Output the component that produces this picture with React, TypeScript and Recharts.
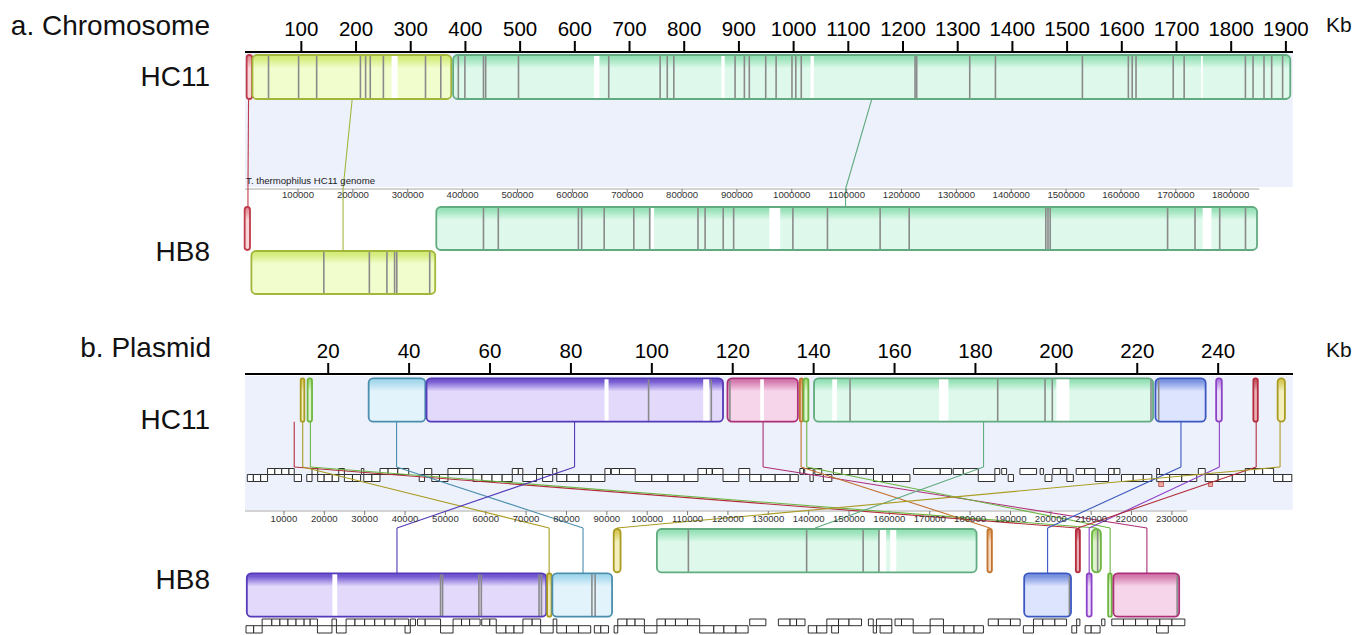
import React from "react";
import { ComposedChart, XAxis, YAxis, Scatter, ReferenceArea, ReferenceLine, ReferenceDot } from "recharts";

const FONT = "'Liberation Sans', Arial, Helvetica, sans-serif";

// ---------- a. chromosome (kb) ----------
const chrTicks = [100, 200, 300, 400, 500, 600, 700, 800, 900, 1000, 1100, 1200, 1300, 1400, 1500, 1600, 1700, 1800, 1900];
const chrHb8Ticks = [100, 200, 300, 400, 500, 600, 700, 800, 900, 1000, 1100, 1200, 1300, 1400, 1500, 1600, 1700, 1800];
const chrHb8Length = 1852;

const chrHc11Blocks = [
  { lcb: "red", start: 0, end: 10 },
  {
    lcb: "yellow", start: 10.6, end: 374,
    breaks: [40, 95, 128, 208, 217.5, 226, 250, 327, 355],
    gaps: [[265, 276]],
  },
  {
    lcb: "green", start: 377.5, end: 1908,
    breaks: [387, 399, 433, 437, 497, 662, 756, 769, 781, 893, 910, 919, 949, 968, 997, 1004, 1014, 1222, 1225, 1322, 1369, 1528, 1612, 1619, 1626, 1694, 1714, 1826, 1840, 1860, 1874, 1894],
    gaps: [[635, 645], [868, 874], [1031, 1037], [1745, 1748]],
  },
];

const chrHb8Blocks = [
  { lcb: "red", start: 2.7, end: 12.4, reverse: false },
  { lcb: "yellow", start: 15, end: 350, reverse: true, breaks: [147, 230, 262, 276, 280, 340] },
  {
    lcb: "green", start: 352, end: 1848, reverse: false,
    breaks: [438, 465, 611, 617, 658, 712, 741, 829, 842, 875, 894, 1002, 1065, 1161, 1214, 1463, 1467, 1471, 1685, 1735, 1780, 1827],
    gaps: [[743, 749], [959, 979], [1749, 1765]],
  },
];

const chrLinks = [
  { lcb: "red", hc11: 3.5, hb8: 8.7, inverted: false },
  { lcb: "yellow", hc11: 193, hb8: 182, inverted: true },
  { lcb: "green", hc11: 1143, hb8: 1098, inverted: false },
];

// ---------- b. plasmid (kb) ----------
const plsTicks = [20, 40, 60, 80, 100, 120, 140, 160, 180, 200, 220, 240];
const plsHb8Ticks = [10, 20, 30, 40, 50, 60, 70, 80, 90, 100, 110, 120, 130, 140, 150, 160, 170, 180, 190, 200, 210, 220, 230];
const plsHb8Length = 233.7;

const plsHc11Blocks = [
  { lcb: "olive", start: 13.2, end: 14.1 },
  { lcb: "lime", start: 14.9, end: 16.0 },
  { lcb: "cyan", start: 30.0, end: 44.0 },
  { lcb: "purple", start: 44.3, end: 117.6, breaks: [99.2, 114.7], gaps: [[88.3, 89.3], [112.7, 114.2]] },
  { lcb: "pink", start: 118.7, end: 136.1, breaks: [119.3], gaps: [[126.8, 127.7]] },
  { lcb: "orange", start: 136.6, end: 137.3 },
  { lcb: "lime", start: 137.5, end: 138.7 },
  { lcb: "green", start: 140.1, end: 223.9, breaks: [149, 185.5, 197.2, 199, 223.4], gaps: [[144.6, 145.8], [171, 173.3], [200, 203.2]] },
  { lcb: "blue", start: 224.5, end: 236.9, breaks: [225.3] },
  { lcb: "violet", start: 239.5, end: 240.9 },
  { lcb: "crimson", start: 248.7, end: 249.8 },
  { lcb: "olive", start: 254.7, end: 256.5 },
];

const plsHb8Blocks = [
  { lcb: "purple", start: 0.8, end: 75.0, reverse: true, breaks: [48.8, 49.3, 58.3, 58.9, 73.2, 73.8], gaps: [[22, 23.2]] },
  { lcb: "olive", start: 75.2, end: 76.3, reverse: true },
  { lcb: "cyan", start: 76.5, end: 91.3, reverse: true, breaks: [86.3, 87.1] },
  { lcb: "olive", start: 91.7, end: 93.4, reverse: false },
  { lcb: "green", start: 102.4, end: 181.6, reverse: false, breaks: [110.2, 139.5, 153.5, 157.4], gaps: [[157.7, 159.2], [160.2, 161.7]] },
  { lcb: "orange", start: 184.3, end: 185.4, reverse: false },
  { lcb: "blue", start: 193.4, end: 205.0, reverse: true, breaks: [204.6] },
  { lcb: "crimson", start: 206.2, end: 207.2, reverse: false },
  { lcb: "violet", start: 208.9, end: 210.1, reverse: true },
  { lcb: "lime", start: 210.2, end: 212.4, reverse: false, breaks: [211.6] },
  { lcb: "lime", start: 214.2, end: 215.1, reverse: true },
  { lcb: "pink", start: 215.5, end: 231.8, reverse: true, breaks: [231.3] },
];

const plsLinks = [
  { lcb: "crimson", hc11: 11.6, hb8: 206.5, inverted: false },
  { lcb: "olive", hc11: 13.7, hb8: 75.7, inverted: true },
  { lcb: "lime", hc11: 15.6, hb8: 211.3, inverted: false },
  { lcb: "cyan", hc11: 36.9, hb8: 84.1, inverted: true },
  { lcb: "purple", hc11: 80.9, hb8: 38.0, inverted: true },
  { lcb: "pink", hc11: 127.5, hb8: 223.8, inverted: true },
  { lcb: "orange", hc11: 136.9, hb8: 184.9, inverted: false },
  { lcb: "lime", hc11: 138.3, hb8: 214.7, inverted: true },
  { lcb: "green", hc11: 182.0, hb8: 141.6, inverted: false },
  { lcb: "blue", hc11: 230.8, hb8: 199.2, inverted: true },
  { lcb: "violet", hc11: 240.3, hb8: 209.5, inverted: true },
  { lcb: "crimson", hc11: 249.4, hb8: 206.7, inverted: false },
  { lcb: "olive", hc11: 255.3, hb8: 92.5, inverted: false },
];

// gene annotations, kb
const hc11GenesFwd = [
  [5.0, 6.8], [6.8, 8.5], [8.5, 10.3], [10.3, 11.6], [16.0, 17.4], [22.6, 24.0], [28.2, 28.8], [32.8, 34.8], [34.8, 37.2], [37.2, 39.9],
  [43.8, 45.6], [49.6, 52.5], [52.5, 55.8], [65.5, 67], [67, 68.1], [71.5, 73.0], [75.5, 76.5], [88.4, 89.8], [90.0, 92.0], [92.0, 95.9],
  [111.4, 113.5], [113.5, 114.9], [115, 117.6], [121.5, 124.2], [136.6, 137.5], [137.8, 139.9], [140.3, 142], [144.9, 147], [147, 149],
  [149, 151], [151, 153], [153, 154.8], [164.7, 171.3], [171.3, 174.1], [174.5, 177], [177, 180.7], [184.8, 186], [186.5, 187.7],
  [191, 195.1], [196, 196.8], [199.1, 201], [201, 202.6], [204.9, 207], [207, 209.6], [212.9, 214.3], [214.3, 215.7], [224.8, 225.5],
  [235.1, 236.8], [246.7, 249], [249, 251], [251, 253.7],
];
const hc11GenesRev = [
  [0, 1.5], [1.5, 3.3], [3.3, 5.0], [11.6, 13.4], [14.7, 16.0], [17.4, 19], [19, 21], [21, 22.6], [24, 26], [26, 28], [28.8, 30.8],
  [30.8, 32.8], [42.5, 43.8], [45.6, 47.5], [47.5, 49.6], [55.8, 58], [58, 60.5], [60.5, 63], [63, 65.5], [68.1, 71.5], [73, 75.5],
  [76.5, 79], [79, 82], [82, 85], [85, 88.4], [95.9, 100], [100, 104], [104, 108], [108, 111.4], [117.6, 121.5], [124.2, 127],
  [127, 130.5], [130.5, 134.2], [134.2, 136.2], [139.1, 139.9], [142.4, 144.5], [154.8, 157], [157, 159.5], [159.5, 163.8],
  [180.7, 184.8], [188.1, 189.4], [197.2, 198.9], [202.6, 204.2], [209.6, 212.9], [216.1, 219], [219, 221.5], [221.5, 223.6],
  [224.8, 228], [228, 231], [231, 234.7], [236.8, 240], [240, 243.5], [243.5, 246.7], [253.7, 256], [256, 258.2],
];
const hc11Misc = [[225.3, 226.5], [237.6, 238.6]];

const hb8GenesFwd = [
  [4.6, 7], [7, 9], [9, 11], [11, 13], [13, 15], [15, 16.5], [16.5, 18.3], [21.9, 23.0], [25.4, 27.6], [27.6, 30], [30, 32.5],
  [32.5, 35], [35, 37.5], [37.5, 40.9], [41.3, 42.6], [43.1, 45], [45, 48.8], [51.9, 54], [54, 56], [56, 58.6], [59, 61], [61, 62.6],
  [69.2, 71.5], [71.5, 73.6], [76.7, 77.6], [92.7, 95], [95, 97], [97, 99.3], [102.4, 104.5], [104.5, 107], [107, 110], [110, 113],
  [125.4, 129.4], [132.5, 135.4], [135.4, 137], [137, 139.1], [144.5, 147.4], [147.4, 150], [150, 153.1], [154.8, 156],
  [156.8, 160.6], [161.4, 163], [163, 165.9], [170.1, 173.4], [184.5, 187], [187, 190], [190, 192.4], [195.7, 198], [198, 201],
  [201, 203.9], [206.4, 207.2], [212.6, 213.4], [215.1, 218], [218, 221], [221, 224], [224, 227], [227, 230], [230, 233.2],
];
const hb8GenesRev = [
  [0.6, 2.5], [2.5, 4.6], [18.3, 21.9], [23, 25.4], [40, 41.3], [48.8, 51.9], [62.6, 65], [65, 67], [67, 69.2], [73.6, 76.7],
  [77.6, 80], [80, 83], [83, 86], [86.9, 88.5], [88.5, 90.4], [91.8, 92.7], [99.3, 102.4], [113, 116.5], [116.5, 119], [119, 122],
  [122, 125], [139.9, 142], [142, 144.5], [145.7, 147.4], [156, 156.8], [157.7, 160.6], [165.9, 170.1], [173.4, 176], [176, 178.5],
  [178.5, 181], [181, 183.3], [193.2, 195.7], [205.2, 206.4], [208.5, 210], [210, 212.2], [226.2, 229.1],
];

// ---------- styles ----------
const LCB: Record<string, { edge: string; fill: string; top: string }> = {
  red: { edge: "#bf3a4a", fill: "#f6d6d9", top: "#e4939c" },
  yellow: { edge: "#a2b63a", fill: "#f2fdcd", top: "#d3ec7a" },
  green: { edge: "#62ab80", fill: "#def9eb", top: "#98e2b8" },
  purple: { edge: "#5439b8", fill: "#e2d9fb", top: "#7458d0" },
  cyan: { edge: "#4b8fae", fill: "#e2f3fb", top: "#a4d8ec" },
  pink: { edge: "#ad2f78", fill: "#f6d4e9", top: "#d47aae" },
  blue: { edge: "#3a58c0", fill: "#dde4fd", top: "#7b93e0" },
  olive: { edge: "#aa9c22", fill: "#f2efbc", top: "#d6ca5a" },
  lime: { edge: "#6db542", fill: "#def4cc", top: "#a7dc7c" },
  orange: { edge: "#c2732f", fill: "#f5d9bf", top: "#e0a060" },
  violet: { edge: "#8c42c6", fill: "#eddff9", top: "#b88ae0" },
  crimson: { edge: "#b32d3d", fill: "#eab0b6", top: "#c85a68" },
};

const BAND = "#edf1fc";

const CHR = {
  top: 0, height: 300, plotTop: 52, marginTop: 22,
  hc11Domain: [-3, 1913], hb8Domain: [3.3, 1913.6],
  ticks: chrTicks, hb8Ticks: chrHb8Ticks, hb8Length: chrHb8Length,
  hc11Row: [55, 99], band: [53, 187], linkA: 99, linkB: 189,
  hb8Ruler: 189, hb8LabelDy: 9.3, hb8Upper: [207, 250], hb8Lower: [251, 294],
};

const PLS = {
  top: 310, height: 325, plotTop: 374, marginTop: 34,
  hc11Domain: [-0.57, 258.5], hb8Domain: [0.35, 260.0],
  ticks: plsTicks, hb8Ticks: plsHb8Ticks, hb8Length: plsHb8Length,
  hc11Row: [378.3, 421.7], band: [376, 510], linkA: 467, linkB: 528,
  hb8Ruler: 511, hb8LabelDy: 10.7, hb8Upper: [529, 572.3], hb8Lower: [573.3, 616.7],
  hc11Genes: { fwd: [468.5, 474.5], rev: [474.5, 481.5], misc: [482, 486.5] },
  hb8Genes: { fwd: [619, 625.7], rev: [625.7, 633] },
};

function blockShape(b: any, id: string) {
  return (p: any) => {
    const { x, y, width, height } = p;
    if (!(width > 0)) return <g />;
    const c = LCB[b.lcb];
    const r = Math.min(4.5, width / 2);
    const px = (kb: number) => x + ((kb - b.start) / (b.end - b.start)) * width;
    return (
      <g>
        <defs>
          <linearGradient id={`g-${id}`} x1="0" y1="0" x2="0" y2="1">
            <stop offset="0" stopColor={c.top} />
            <stop offset="0.07" stopColor={c.top} />
            <stop offset="0.3" stopColor={c.fill} />
            <stop offset="1" stopColor={c.fill} />
          </linearGradient>
          <clipPath id={`c-${id}`}>
            <rect x={x} y={y} width={width} height={height} rx={r} />
          </clipPath>
        </defs>
        <rect x={x} y={y} width={width} height={height} rx={r} fill={`url(#g-${id})`} />
        <g clipPath={`url(#c-${id})`}>
          {(b.gaps || []).map((g: number[], i: number) => (
            <rect key={`gap${i}`} x={px(g[0])} y={y} width={Math.max(1.5, px(g[1]) - px(g[0]))} height={height} fill="#ffffff" />
          ))}
          {(b.breaks || []).map((k: number, i: number) => (
            <line key={`br${i}`} x1={px(k)} x2={px(k)} y1={y} y2={y + height} stroke="#8a8a8a" strokeWidth={1.6} />
          ))}
        </g>
        <rect x={x} y={y} width={width} height={height} rx={r} fill="none" stroke={c.edge} strokeWidth={1.8} />
      </g>
    );
  };
}

function blockAreas(blocks: any[], axisId: string, fwdRow: number[], revRow: number[], prefix: string) {
  return blocks.map((b, i) => {
    const row = b.reverse ? revRow : fwdRow;
    return (
      <ReferenceArea
        key={`${prefix}-${i}`}
        xAxisId={axisId}
        yAxisId="y"
        x1={b.start}
        x2={b.end}
        y1={row[0]}
        y2={row[1]}
        ifOverflow="visible"
        shape={blockShape(b, `${prefix}-${i}`)}
      />
    );
  });
}

function geneAreas(genes: number[][], axisId: string, row: number[], prefix: string, fill = "#ffffff", stroke = "#1a1a1a") {
  return genes.map((g, i) => (
    <ReferenceArea
      key={`${prefix}-${i}`}
      xAxisId={axisId}
      yAxisId="y"
      x1={g[0]}
      x2={g[1]}
      y1={row[0]}
      y2={row[1]}
      ifOverflow="visible"
      fill={fill}
      fillOpacity={1}
      stroke={stroke}
      strokeWidth={0.9}
    />
  ));
}

function linkLines(links: any[], cfg: any, prefix: string) {
  const [a0, a1] = cfg.hc11Domain;
  const [b0, b1] = cfg.hb8Domain;
  const toHc11 = (kb: number) => a0 + ((kb - b0) * (a1 - a0)) / (b1 - b0);
  const out: any[] = [];
  links.forEach((l, i) => {
    const xA = l.hc11;
    const xB = toHc11(l.hb8);
    const endY = l.inverted ? cfg.hb8Lower[0] : cfg.hb8Upper[0];
    const pts = [
      [xA, cfg.hc11Row[1]],
      [xA, cfg.linkA],
      [xB, cfg.linkB],
      [xB, endY],
    ];
    for (let k = 0; k < 3; k++) {
      if (pts[k][0] === pts[k + 1][0] && pts[k][1] === pts[k + 1][1]) continue;
      out.push(
        <ReferenceLine
          key={`${prefix}-${i}-${k}`}
          xAxisId="hc11"
          yAxisId="y"
          ifOverflow="visible"
          segment={[
            { x: pts[k][0], y: pts[k][1] },
            { x: pts[k + 1][0], y: pts[k + 1][1] },
          ]}
          stroke={LCB[l.lcb].edge}
          strokeWidth={1.1}
        />
      );
    }
  });
  return out;
}

function hb8Ruler(cfg: any, prefix: string) {
  const R = cfg.hb8Ruler;
  const out: any[] = [
    <ReferenceLine
      key={`${prefix}-line`}
      xAxisId="hb8"
      yAxisId="y"
      ifOverflow="visible"
      segment={[{ x: cfg.hb8Domain[0], y: R }, { x: cfg.hb8Length, y: R }]}
      stroke="#a8a8a8"
      strokeWidth={1}
    />,
  ];
  cfg.hb8Ticks.forEach((t: number) => {
    out.push(
      <ReferenceLine
        key={`${prefix}-t${t}`}
        xAxisId="hb8"
        yAxisId="y"
        ifOverflow="visible"
        segment={[{ x: t, y: R }, { x: t, y: R + 4 }]}
        stroke="#777"
        strokeWidth={1}
      />
    );
    out.push(
      <ReferenceDot
        key={`${prefix}-l${t}`}
        xAxisId="hb8"
        yAxisId="y"
        x={t}
        y={R + cfg.hb8LabelDy}
        ifOverflow="visible"
        shape={(p: any) => (
          <text x={p.cx} y={p.cy} textAnchor="middle" fontSize={9.6} fill="#333" fontFamily={FONT}>
            {String(Math.round(t * 1000))}
          </text>
        )}
      />
    );
  });
  return out;
}

const hideShape = () => <g />;

function Panel({ cfg, hc11Blocks, hb8Blocks, links, prefix, extra }: any) {
  // invisible anchors so each axis pair registers its domain
  const hc11Anchor = cfg.ticks.map((t: number) => ({ x: t, y: cfg.hc11Row[0] }));
  const hb8Anchor = cfg.hb8Ticks.map((t: number) => ({ x: t, y: cfg.hb8Ruler }));
  return (
    <div style={{ position: "absolute", left: 0, top: cfg.top }}>
      <ComposedChart
        width={1353}
        height={cfg.height}
        margin={{ top: cfg.marginTop, right: 60, bottom: 0, left: 245 }}
      >
        <XAxis
          xAxisId="hc11"
          dataKey="x"
          type="number"
          orientation="top"
          domain={cfg.hc11Domain}
          allowDataOverflow
          ticks={cfg.ticks}
          interval={0}
          height={30}
          tickSize={11}
          tickMargin={5}
          axisLine={{ stroke: "#000", strokeWidth: 2 }}
          tickLine={{ stroke: "#000", strokeWidth: 2 }}
          tick={{ fontSize: 20.5, fill: "#000", fontFamily: FONT }}
        />
        <XAxis xAxisId="hb8" dataKey="x" type="number" orientation="top" domain={cfg.hb8Domain} allowDataOverflow hide height={0} />
        <YAxis yAxisId="y" dataKey="y" type="number" domain={[cfg.plotTop, cfg.top + cfg.height]} reversed allowDataOverflow hide width={0} />
        <Scatter xAxisId="hc11" yAxisId="y" data={hc11Anchor} dataKey="y" shape={hideShape} isAnimationActive={false} />
        <Scatter xAxisId="hb8" yAxisId="y" data={hb8Anchor} dataKey="y" shape={hideShape} isAnimationActive={false} />
        <ReferenceArea
          xAxisId="hc11"
          yAxisId="y"
          x1={cfg.hc11Domain[0]}
          x2={cfg.hc11Domain[1] - 0.3 * (cfg.hc11Domain[1] - cfg.hc11Domain[0]) / 1048}
          y1={cfg.band[0]}
          y2={cfg.band[1]}
          fill={BAND}
          fillOpacity={1}
          ifOverflow="visible"
        />
        {hb8Ruler(cfg, prefix)}
        {extra}
        {linkLines(links, cfg, `${prefix}-lk`)}
        {blockAreas(hc11Blocks, "hc11", cfg.hc11Row, cfg.hc11Row, `${prefix}-a`)}
        {blockAreas(hb8Blocks, "hb8", cfg.hb8Upper, cfg.hb8Lower, `${prefix}-b`)}
      </ComposedChart>
    </div>
  );
}

export default function App() {
  const plsExtra = [
    ...geneAreas(hc11GenesFwd, "hc11", PLS.hc11Genes.fwd, "hf"),
    ...geneAreas(hc11GenesRev, "hc11", PLS.hc11Genes.rev, "hr"),
    ...geneAreas(hc11Misc, "hc11", PLS.hc11Genes.misc, "hm", "#f2a6a0", "#c05a55"),
    ...geneAreas(hb8GenesFwd, "hb8", PLS.hb8Genes.fwd, "bf"),
    ...geneAreas(hb8GenesRev, "hb8", PLS.hb8Genes.rev, "br"),
  ];
  const chrExtra = [
    <ReferenceDot
      key="genome-label"
      xAxisId="hc11"
      yAxisId="y"
      x={-1}
      y={183.5}
      ifOverflow="visible"
      shape={(p: any) => (
        <text x={p.cx} y={p.cy} textAnchor="start" fontSize={9.6} fill="#222" fontFamily={FONT}>
          T. thermophilus HC11 genome
        </text>
      )}
    />,
  ];
  return (
    <div
      style={{
        position: "absolute",
        left: 0,
        top: 0,
        width: 1353,
        height: 635,
        background: "#fff",
        overflow: "hidden",
        fontFamily: FONT,
      }}
    >
      <Panel cfg={CHR} hc11Blocks={chrHc11Blocks} hb8Blocks={chrHb8Blocks} links={chrLinks} prefix="chr" extra={chrExtra} />
      <Panel cfg={PLS} hc11Blocks={plsHc11Blocks} hb8Blocks={plsHb8Blocks} links={plsLinks} prefix="pls" extra={plsExtra} />
      <svg width={1353} height={635} style={{ position: "absolute", left: 0, top: 0, pointerEvents: "none" }}>
        <g fontFamily={FONT} fill="#111">
          <text x={210} y={35} fontSize={28} textAnchor="end">a. Chromosome</text>
          <text x={210} y={86} fontSize={28} textAnchor="end">HC11</text>
          <text x={210} y={261} fontSize={28} textAnchor="end">HB8</text>
          <text x={211} y={357} fontSize={28} textAnchor="end">b. Plasmid</text>
          <text x={210} y={429} fontSize={28} textAnchor="end">HC11</text>
          <text x={210} y={589} fontSize={28} textAnchor="end">HB8</text>
          <text x={1326} y={32} fontSize={21}>Kb</text>
          <text x={1326} y={357} fontSize={21}>Kb</text>
        </g>
      </svg>
    </div>
  );
}
